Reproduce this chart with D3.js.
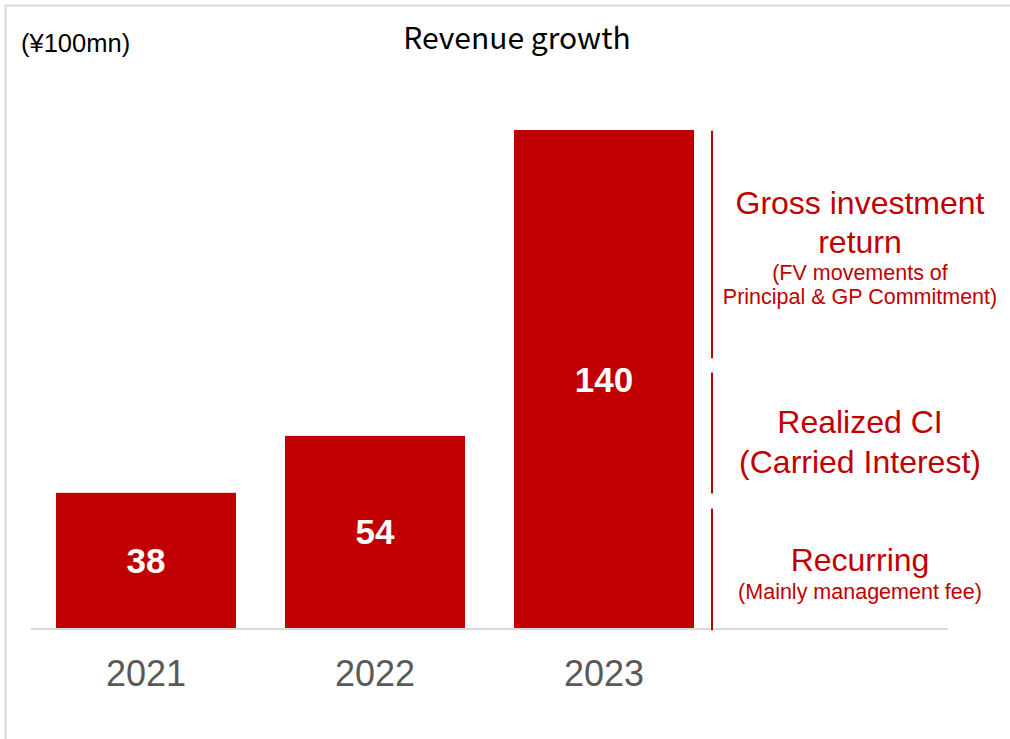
<!DOCTYPE html>
<html>
<head>
<meta charset="utf-8">
<script src="https://cdn.jsdelivr.net/npm/d3@7/dist/d3.min.js"></script>
<style>
  html, body { margin: 0; padding: 0; background: #fff; }
  svg { display: block; }
</style>
</head>
<body>
<script>
// Revenue by fiscal year (¥100mn)
const years = ["2021", "2022", "2023"];
const revenue = [38, 54, 140];

// Revenue components marked along the 2023 bar, bottom to top
const segmentNames = ["Recurring", "Realized CI", "Gross investment return"];
const segmentRanges = [[-0.6, 33.6], [37.8, 71.8], [75.8, 139.8]];
const segmentTitles = [["Recurring"], ["Realized CI", "(Carried Interest)"], ["Gross investment", "return"]];
const segmentNotes = [["(Mainly management fee)"], [], ["(FV movements of", "Principal & GP Commitment)"]];

const W = 1010, H = 739;
const RED = "#C00000";
const FONT = "'Liberation Sans', Arial, sans-serif";

const svg = d3.select("body").append("svg").attr("width", W).attr("height", H);

// frame
svg.append("path")
  .attr("d", `M5.5,${H} V5.5 H${W}`)
  .attr("fill", "none").attr("stroke", "#d9d9d9").attr("stroke-width", 2);

const x = d3.scaleBand().domain(years).range([31, 719]).paddingInner(0.214).paddingOuter(0.109);
const y = d3.scaleLinear().domain([0, 140]).range([628, 130]);

// title and unit
svg.append("text").attr("x", 517).attr("y", 49).attr("text-anchor", "middle")
  .attr("font-family", "'Noto Sans CJK JP', 'Noto Sans', sans-serif").attr("font-size", 30)
  .attr("fill", "#000").text("Revenue growth");
svg.append("text").attr("x", 21).attr("y", 52)
  .attr("font-family", FONT).attr("font-size", 25.5).attr("fill", "#000").text("(¥100mn)");

// bars
const data = years.map((yr, i) => ({ year: yr, value: revenue[i] }));
svg.append("g").selectAll("rect").data(data).join("rect")
  .attr("x", d => x(d.year)).attr("width", x.bandwidth())
  .attr("y", d => y(d.value)).attr("height", d => y(0) - y(d.value))
  .attr("fill", RED);

// value labels
svg.append("g").selectAll("text").data(data).join("text")
  .attr("x", d => x(d.year) + x.bandwidth() / 2)
  .attr("y", d => (y(d.value) + y(0)) / 2 + 12.5)
  .attr("text-anchor", "middle")
  .attr("font-family", FONT).attr("font-weight", "bold").attr("font-size", 35)
  .attr("fill", "#fff").text(d => d.value);

// baseline axis with year labels
const axis = svg.append("g").attr("transform", `translate(0,${y(0)})`)
  .call(d3.axisBottom(x).tickSize(0).tickPadding(0));
axis.select(".domain").remove();
svg.append("line").attr("x1", 31).attr("x2", 948).attr("y1", y(0) + 1).attr("y2", y(0) + 1)
  .attr("stroke", "#d9d9d9").attr("stroke-width", 2);
axis.selectAll(".tick text")
  .attr("y", 58).attr("dy", 0)
  .attr("font-family", FONT).attr("font-size", 36).attr("fill", "#595959");

// component brackets
const bx = 712, lx = 860;
svg.append("g").selectAll("line").data(segmentRanges).join("line")
  .attr("x1", bx).attr("x2", bx)
  .attr("y1", d => y(d[1])).attr("y2", d => y(d[0]))
  .attr("stroke", RED).attr("stroke-width", 2);

// component labels: title lines then smaller note lines
const titleY = [[571], [433, 473], [214, 253]];
const noteY = [[599], [], [280, 304]];
segmentNames.forEach((name, i) => {
  const g = svg.append("g").attr("class", "seg-label").attr("data-name", name);
  segmentTitles[i].forEach((t, j) => {
    g.append("text").attr("x", lx).attr("y", titleY[i][j]).attr("text-anchor", "middle")
      .attr("font-family", FONT).attr("font-size", 32).attr("fill", RED).text(t);
  });
  segmentNotes[i].forEach((t, j) => {
    g.append("text").attr("x", lx).attr("y", noteY[i][j]).attr("text-anchor", "middle")
      .attr("font-family", FONT).attr("font-size", 21.5).attr("fill", RED).text(t);
  });
});
</script>
</body>
</html>
